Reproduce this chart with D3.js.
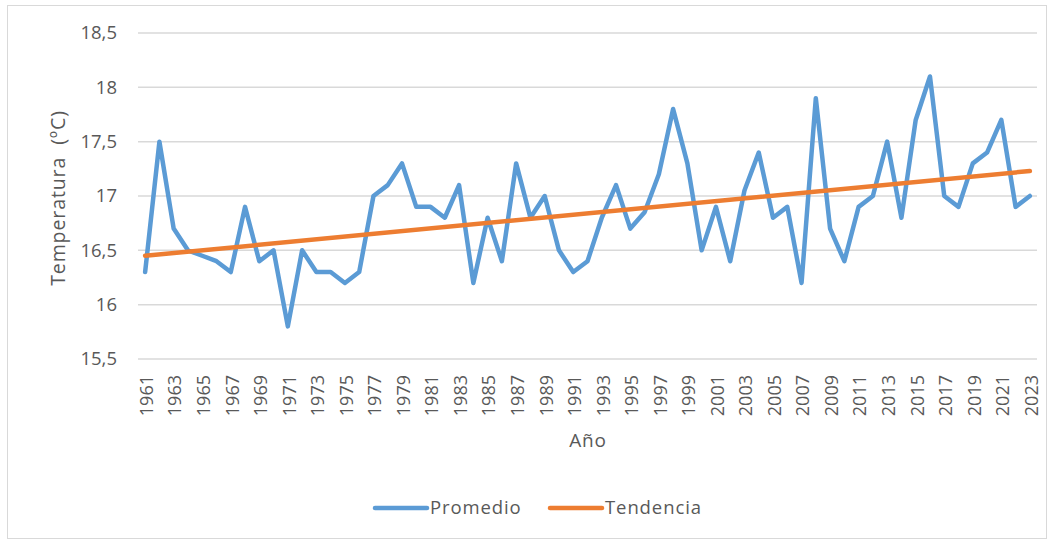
<!DOCTYPE html>
<html><head><meta charset="utf-8">
<script src="https://cdn.jsdelivr.net/npm/d3@7"></script>
<style>
html,body{margin:0;padding:0;background:#fff;}
svg{display:block;font-family:"Open Sans",sans-serif;}
</style></head>
<body><svg id="c" width="1054" height="544"></svg>
<script>
const years = d3.range(1961, 2024).map(String);
const promedio = [16.3,17.5,16.7,16.5,16.45,16.4,16.3,16.9,16.4,16.5,
15.8,16.5,16.3,16.3,16.2,16.3,17.0,17.1,17.3,16.9,
16.9,16.8,17.1,16.2,16.8,16.4,17.3,16.8,17.0,16.5,
16.3,16.4,16.8,17.1,16.7,16.85,17.2,17.8,17.3,16.5,
16.9,16.4,17.05,17.4,16.8,16.9,16.2,17.9,16.7,16.4,
16.9,17.0,17.5,16.8,17.7,18.1,17.0,16.9,17.3,17.4,
17.7,16.9,17.0];
const tendenciaYears = ["1961","2023"];
const tendencia = [16.45,17.23];
const yTicks = [15.5,16,16.5,17,17.5,18,18.5];
const xTickLabels = years.filter((d,i)=>i%2===0);
const seriesNames = ["Promedio","Tendencia"];
const colors = ["#5b9bd5","#ed7d31"];

const svg = d3.select("#c");
svg.append("rect").attr("x",7.5).attr("y",5.5).attr("width",1039).attr("height",533)
  .attr("fill","#fff").attr("stroke","#d9d9d9").attr("stroke-width",1);

const x = d3.scalePoint().domain(years).range([138,1037]).padding(0.5);
const y = d3.scaleLinear().domain([15.5,18.5]).range([359,33]);
const fmt = d => String(d).replace(".",",");

// grid
svg.append("g").selectAll("line").data(yTicks).join("line")
  .attr("x1",138).attr("x2",1037).attr("y1",d=>y(d)).attr("y2",d=>y(d))
  .attr("stroke","#d9d9d9").attr("stroke-width",1.5);

// y axis
const ya = svg.append("g").attr("transform","translate(138,0)")
  .call(d3.axisLeft(y).tickValues(yTicks).tickFormat(fmt).tickSize(0).tickPadding(21));
ya.select(".domain").remove();
ya.selectAll("text").attr("fill","#595959").style("font-size","18.5px").style("font-family","Open Sans");

// x axis
const xa = svg.append("g").attr("transform","translate(0,359)")
  .call(d3.axisBottom(x).tickValues(xTickLabels).tickSize(0));
xa.select(".domain").remove();
xa.selectAll("text").attr("fill","#595959").style("font-size","18px").style("font-family","Open Sans")
  .attr("text-anchor","end").attr("transform","rotate(-90)")
  .attr("x",-16).attr("y",1).attr("dy","0.35em");

// lines
const line = d3.line().x(d=>x(d[0])).y(d=>y(d[1]));
svg.append("path").datum(years.map((yr,i)=>[yr,promedio[i]]))
  .attr("d",line).attr("fill","none").attr("stroke",colors[0]).attr("stroke-width",4.5)
  .attr("stroke-linejoin","round").attr("stroke-linecap","round");
svg.append("path").datum(tendenciaYears.map((yr,i)=>[yr,tendencia[i]]))
  .attr("d",line).attr("fill","none").attr("stroke",colors[1]).attr("stroke-width",4.5)
  .attr("stroke-linecap","round");

// axis titles
svg.append("text").attr("x",588).attr("y",447).attr("text-anchor","middle")
  .attr("fill","#595959").style("font-size","19px").style("letter-spacing","0.8px").text("Año");
svg.append("text").attr("transform","translate(65,198) rotate(-90)").attr("text-anchor","middle")
  .attr("fill","#595959").style("font-size","19.5px").style("letter-spacing","0.9px")
  .attr("xml:space","preserve").style("white-space","pre").text("Temperatura  (ºC)");

// legend
const leg = [{x:375},{x:550}];
seriesNames.forEach((n,i)=>{
  const g = svg.append("g").attr("transform",`translate(${leg[i].x},508)`);
  g.append("line").attr("x1",0).attr("x2",52).attr("stroke",colors[i]).attr("stroke-width",4.5).attr("stroke-linecap","round");
  g.append("text").attr("x",55).attr("dy","0.35em").attr("fill","#595959").style("font-size","18.5px")
    .style("letter-spacing","0.9px").text(n);
});
</script></body></html>
